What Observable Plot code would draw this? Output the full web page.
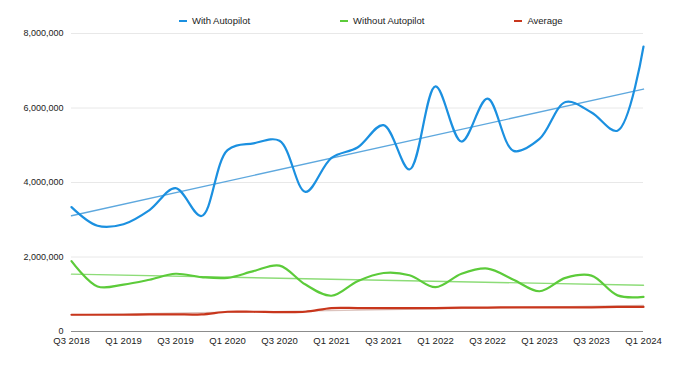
<!DOCTYPE html>
<html>
<head>
<meta charset="utf-8">
<script src="https://cdn.jsdelivr.net/npm/d3@7"></script>
<script src="https://cdn.jsdelivr.net/npm/@observablehq/plot@0.6"></script>
<style>
  html, body { margin: 0; padding: 0; background: #fff; }
  body { width: 680px; height: 367px; position: relative; overflow: hidden; font-family: "Liberation Sans", Arial, Helvetica, sans-serif; }
  #legend { position: absolute; top: 15px; left: 179px; display: flex; gap: 90px; font-size: 9.5px; color: #222; line-height: 12px; }
  .item { display: flex; align-items: center; white-space: nowrap; }
  .sw { width: 8px; height: 2px; margin-right: 5px; }
  #chart { position: absolute; top: 0; left: 0; }
</style>
</head>
<body>
<div id="chart"></div>
<div id="legend"></div>
<script>
const quarters = ["Q3 2018","Q4 2018","Q1 2019","Q2 2019","Q3 2019","Q4 2019","Q1 2020","Q2 2020","Q3 2020","Q4 2020","Q1 2021","Q2 2021","Q3 2021","Q4 2021","Q1 2022","Q2 2022","Q3 2022","Q4 2022","Q1 2023","Q2 2023","Q3 2023","Q4 2023","Q1 2024"];
const withAutopilot = [3340000, 2840000, 2880000, 3260000, 3850000, 3100000, 4870000, 5050000, 5120000, 3750000, 4660000, 4940000, 5540000, 4350000, 6580000, 5100000, 6250000, 4850000, 5170000, 6160000, 5880000, 5390000, 7650000];
const withoutAutopilot = [1890000, 1210000, 1260000, 1390000, 1550000, 1460000, 1440000, 1620000, 1770000, 1260000, 960000, 1350000, 1570000, 1510000, 1190000, 1550000, 1690000, 1390000, 1080000, 1440000, 1500000, 970000, 930000];
const average = [450000, 450000, 450000, 460000, 460000, 460000, 530000, 530000, 520000, 530000, 630000, 630000, 630000, 630000, 630000, 640000, 640000, 650000, 650000, 650000, 650000, 660000, 660000];
const yTicks = [0, 2000000, 4000000, 6000000, 8000000];
const xTickIdx = [0, 2, 4, 6, 8, 10, 12, 14, 16, 18, 20, 22];

const series = [
  {name: "With Autopilot", values: withAutopilot, color: "#1b90e0", trend: "#5ea8de"},
  {name: "Without Autopilot", values: withoutAutopilot, color: "#5ccb3a", trend: "#8ddc78"},
  {name: "Average", values: average, color: "#c8361c", trend: "#dcc4be"}
];
const rows = s => s.values.map((v, i) => ({i, v}));

const marks = [
  Plot.gridY(yTicks.filter(d => d > 0), {stroke: "#e8e8e8", strokeOpacity: 1}),
  Plot.axisY(yTicks, {tickSize: 0, tickPadding: 8, fontSize: 9, tickFormat: d3.format(","), color: "#222", label: null}),
  Plot.axisX(xTickIdx, {tickSize: 0, tickPadding: 6, fontSize: 9.5, tickFormat: i => quarters[i], color: "#222", label: null}),
  Plot.ruleY([0], {stroke: "#8c8c8c"})
];
for (const s of series) {
  marks.push(Plot.linearRegressionY(rows(s), {x: "i", y: "v", stroke: s.trend, strokeWidth: 1.4, ci: 0}));
}
for (const s of series) {
  marks.push(Plot.line(rows(s), {x: "i", y: "v", stroke: s.color, strokeWidth: 2.2, curve: "catmull-rom"}));
}

const chart = Plot.plot({
  width: 680,
  height: 367,
  marginTop: 33,
  marginBottom: 36,
  marginLeft: 71,
  marginRight: 37,
  style: {fontFamily: "'Liberation Sans', Arial, Helvetica, sans-serif", background: "#fff"},
  x: {type: "linear", domain: [0, quarters.length - 1], axis: null, label: null},
  y: {domain: [0, 8000000], axis: null, label: null},
  marks
});
document.getElementById("chart").appendChild(chart);

const legend = document.getElementById("legend");
for (const s of series) {
  const it = document.createElement("div");
  it.className = "item";
  const sw = document.createElement("span");
  sw.className = "sw";
  sw.style.background = s.color;
  it.appendChild(sw);
  it.appendChild(document.createTextNode(s.name));
  legend.appendChild(it);
}
</script>
</body>
</html>
